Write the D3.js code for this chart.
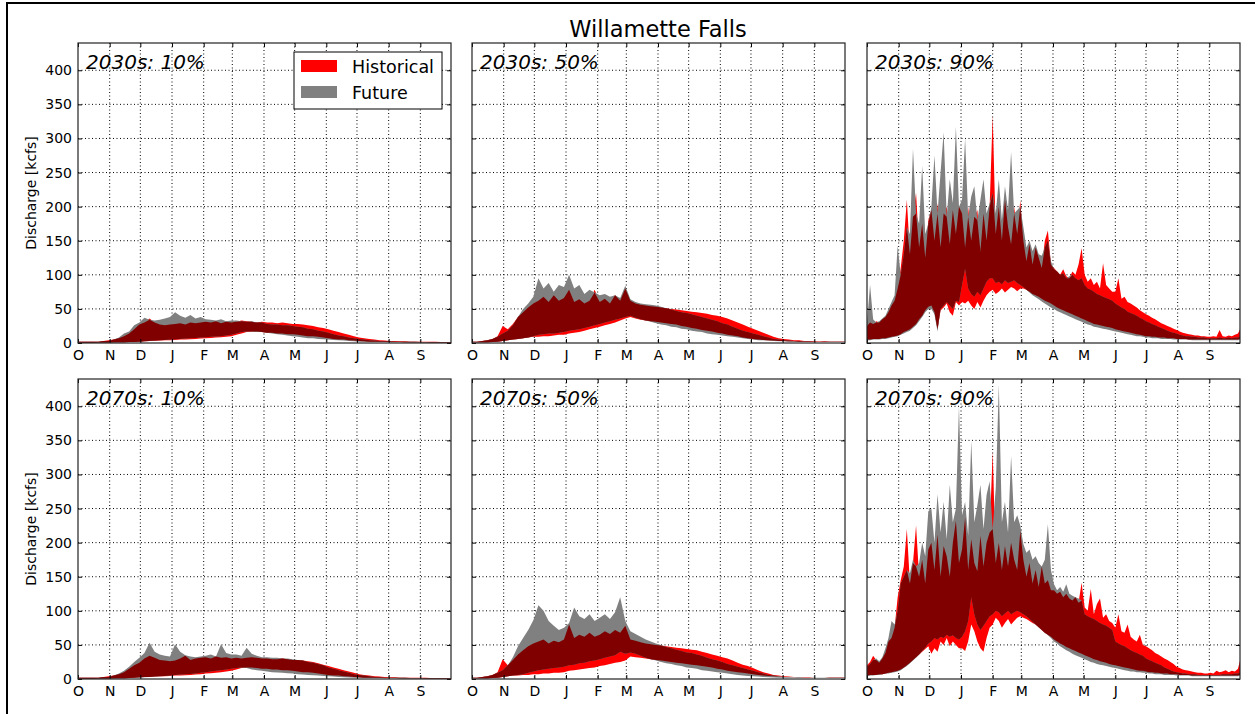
<!DOCTYPE html>
<html>
<head>
<meta charset="utf-8">
<script src="https://cdn.jsdelivr.net/npm/d3@7"></script>
<style>
  body { margin: 0; background: #fff; }
  text { font-family: "DejaVu Sans", sans-serif; }
</style>
</head>
<body>
<div id="chart"></div>
<script>
// sample days of the water year (Oct 1 = day 0)
const days5 = d3.range(0, 366, 5);                 // 74 samples, 10% / 50% panels
const days3 = d3.range(0, 364, 3).concat([365]);   // 123 samples, 90% panels
const monthStarts = [0, 31, 61, 92, 123, 151, 182, 212, 243, 273, 304, 335];
const monthLabels = ["O", "N", "D", "J", "F", "M", "A", "M", "J", "J", "A", "S"];
const yTicks = [0, 50, 100, 150, 200, 250, 300, 350, 400];
const panelLabels = ["2030s: 10%", "2030s: 50%", "2030s: 90%", "2070s: 10%", "2070s: 50%", "2070s: 90%"];

// 2030s 10%
const h30_10_hi = [2,2,2,2,2,3,4, 5,7,10,14,20,27, 30,36,30,27,26,27, 28,29,27,30,29,30, 31,30,32,29,31,30, 31,33,32,31,30,31,
  30,30,29,30,29,28, 28,27,26,25,23,22, 20,18,16,14,12,10, 8,7,6,5,4,3.5, 3,3,2.5,2.5,2,2, 2,2,1.8,1.8,1.6,1.6,1.5];
const h30_10_lo = [0.5,0.5,0.5,0.5,0.6,0.7,0.8, 1,1,1.2,1.4,1.6,2, 2.5,3,3,3.5,4,4, 4.5,5,5,5.5,6,6.5, 7,7.5,8,8.5,9,10, 12,14,16,17,17,16,
  15,15,14,14,13,13, 12,11,10,10,9,8, 7,6,5,5,4,3.5, 3,2.5,2,2,1.8,1.6, 1.5,1.4,1.3,1.2,1.1,1, 1,1,0.9,0.9,0.8,0.8,0.8];
const f30_10_hi = [2,2,2,2,2,3,3, 5,8,14,17,26,30, 37,34,33,34,36,38, 45,40,37,41,36,38, 35,34,33,35,32,33, 33,32,31,32,30,30,
  28,27,27,26,26,25, 24,23,21,20,18,17, 15,13,11,10,8,7, 6,5,4,3.5,3,2.5, 2.5,2,2,2,1.8,1.8, 1.6,1.6,1.5,1.5,1.4,1.4,1.4];
const f30_10_lo = [0.5,0.5,0.5,0.5,0.5,0.6,0.7, 0.8,1,1.1,1.3,1.5,1.8, 2.5,3,3.5,4,4.5,5, 5.5,6,6.5,7,7.5,8, 8.5,9,9.5,10,11,12, 14,16,17,17,16,16,
  15,14,13,12,11,10, 9,8,7,7,6,5.5, 5,4.5,4,3.5,3,2.5, 2,1.8,1.6,1.5,1.4,1.3, 1.2,1.1,1,1,0.9,0.9, 0.8,0.8,0.8,0.7,0.7,0.7,0.7];

// 2030s 50%
const h30_50_hi = [2,2,3,4,6,10,25, 20,28,38,45,52,58, 62,68,60,70,62,66, 78,60,64,58,62,78, 60,65,58,70,62,80, 62,58,56,55,54,53,
  52,51,50,49,48,47, 46,45,44,43,41,40, 38,36,33,30,27,24, 21,18,15,12,9,7, 6,5,4,4,3,3, 3,2.5,2.5,2,2,2,2];
const h30_50_lo = [1,1,1,1,1.5,2,3, 4,5,6,7,8,9, 9,10,10,11,12,12, 14,15,16,18,20,22, 24,26,28,30,33,36, 38,36,34,33,32,31,
  30,29,28,27,25,24, 22,21,19,18,17,15, 14,12,11,10,8,7, 6,5,4.5,4,3.5,3, 3,2.5,2.5,2,2,2, 1.8,1.8,1.6,1.6,1.5,1.5,1.5];
const f30_50_hi = [2,2,3,4,6,9,14, 18,26,38,50,58,68, 95,80,88,75,85,82, 100,80,85,72,78,74, 70,72,68,70,66,84, 64,60,58,57,56,55,
  53,51,49,47,45,44, 42,40,38,36,34,32, 29,27,24,21,18,16, 14,12,10,8,6,5, 4,3.5,3,3,2.5,2.5, 2,2,2,2,2,2,2];
const f30_50_lo = [1,1,1,1,1.5,2,3, 4,5,6,7,8,10, 12,13,14,14,15,16, 18,19,20,22,24,26, 28,30,32,34,36,38, 40,37,35,33,31,29,
  27,26,24,23,21,20, 18,17,16,14,13,12, 11,10,9,8,7,6, 5,4,4,3.5,3,2.5, 2.5,2,2,2,1.8,1.8, 1.6,1.6,1.5,1.5,1.5,1.4,1.4];

// 2030s 90%
const h30_90_hi = [25,30,28,32,30,35,38,45,55,62,80, 110,150,210,130,185,220,140,175,125,180, 195,150,205,140,190,200,145,195,160,200,
  190,140,200,150,185,195,135,190,150,200, 334,160,200,150,210,170,145,200,160,209, 150,120,145,115,140,125,110,150,165,115,
  110,105,100,108,98,95,105,100,115,139, 100,90,95,85,90,80,117,85,80,75, 75,95,65,68,60,58,55,52,48,45,
  42,40,37,35,32,29,27,25,23,21,19, 17,15,14,13,12,11,11,10,10,9, 9,10,9,19,10,9,11,10,12,14,20];
const h30_90_lo = [5,5,6,6,6,7,7,8,9,10,11, 13,16,18,20,24,28,35,40,48,53, 55,45,20,48,52,58,45,40,60,55,
  60,58,62,55,50,60,52,62,70,75, 78,72,75,80,74,78,82,80,76,80, 80,78,75,72,70,68,65,62,60,58,
  55,52,50,48,46,44,42,40,38,36, 34,32,30,28,27,26,25,24,23,22, 20,19,18,17,16,15,14,13,12,11,
  10,10,9,9,8,8,8,7,7,7,6, 6,6,6,5,5,5,5,5,5,5, 5,5,5,5,5,5,5,5,5,5,6];
const f30_90_hi = [30,85,35,30,32,36,40,50,60,70,143, 100,130,170,160,285,190,175,260,160,175, 200,275,190,250,309,185,240,205,317,200,
  210,300,185,215,230,180,210,240,190,205, 220,190,240,180,230,195,280,190,195,200, 170,140,150,135,145,130,128,140,150,120,
  108,105,100,102,95,98,100,95,92,95, 85,80,78,75,72,70,68,66,64,62, 58,55,52,50,46,44,42,40,37,35,
  32,30,28,26,24,22,20,18,16,15,14, 12,11,10,10,9,9,8,8,8,7, 7,7,7,8,7,7,8,7,8,8,9];
const f30_90_lo = [4,4,5,5,5,6,6,7,8,9,10, 12,14,16,18,22,26,32,38,45,50, 50,42,17,50,55,60,55,50,62,60,
  85,109,80,72,68,75,70,80,90,95, 95,88,90,86,92,88,90,92,88,85, 82,78,74,70,67,64,61,58,55,52,
  50,47,45,43,41,39,37,35,33,31, 29,27,26,24,23,22,21,20,19,18, 17,16,15,14,13,12,11,10,10,9,
  8,8,7,7,7,6,6,6,6,5,5, 5,5,5,5,4,4,4,4,4,4, 4,4,4,4,4,4,4,4,4,4,5];

// 2070s 10%
const h70_10_hi = [2,2,2,2,2,3,4, 5,7,10,15,20,24, 30,34,31,28,27,26, 27,30,34,28,30,31, 32,30,33,31,32,30, 31,30,31,32,31,30,
  30,29,29,30,29,28, 28,27,26,25,23,21, 19,17,15,13,11,9, 7,6,5,4,3.5,3, 2.5,2.5,2,2,2,2, 1.8,1.8,1.6,1.6,1.5,1.5,1.5];
const h70_10_lo = [0.5,0.5,0.5,0.5,0.6,0.7,0.8, 1,1,1.2,1.5,2,2.5, 3,3,3.5,4,4,4.5, 5,5,5.5,6,6.5,7, 8,8.5,9,10,11,12, 14,16,17,17,16,15,
  15,14,14,13,13,12, 11,10,10,9,8,7, 6,5,5,4,3.5,3, 2.5,2,2,1.8,1.6,1.5, 1.4,1.3,1.2,1.1,1,1, 1,0.9,0.9,0.8,0.8,0.8,0.8];
const f70_10_hi = [2,2,2,2,2,3,3, 5,8,12,18,25,31, 38,53,40,36,34,33, 51,40,35,33,32,33, 34,36,33,51,38,36, 36,34,46,37,34,32,
  32,31,31,30,30,29, 28,27,25,24,22,20, 17,15,13,11,9,7, 6,5,4,3,2.5,2, 2,2,1.8,1.8,1.6,1.6, 1.5,1.5,1.4,1.4,1.3,1.3,1.3];
const f70_10_lo = [0.5,0.5,0.5,0.5,0.5,0.6,0.7, 0.8,1,1.2,1.4,1.7,2, 2.5,3,3.5,4,4.5,5, 6,6.5,7,7.5,8,9, 10,11,12,13,14,15, 16,17,16,14,13,12,
  11,10,9.5,9,8.5,8, 7,6.5,6,5.5,5,4.5, 4,3.5,3,2.5,2.2,2, 1.8,1.6,1.5,1.4,1.3,1.2, 1.1,1,1,0.9,0.9,0.9, 0.8,0.8,0.8,0.7,0.7,0.7,0.7];

// 2070s 50%
const h70_50_hi = [2,2,3,4,6,10,29, 20,28,36,42,48,52, 55,58,52,56,54,58, 80,60,65,62,68,62, 65,70,66,72,68,78, 58,56,54,52,51,50,
  49,48,47,46,45,44, 43,42,40,38,36,34, 32,30,27,24,21,19, 16,13,10,8,6,5, 4,3.5,3,3,2.5,2.5, 2,2,2,2,2,2,2];
const h70_50_lo = [1,1,1,1,1.5,2,3, 4,5,5,6,6,7, 7,8,8,9,9,10, 12,13,14,15,16,17, 19,20,22,24,25,27, 33,32,31,30,29,28,
  27,26,25,24,23,22, 21,20,19,18,17,15, 14,12,11,10,9,8, 7,6,5,4.5,4,3.5, 3,3,2.5,2.5,2,2, 2,1.8,1.8,1.6,1.6,1.5,1.5];
const f70_50_hi = [2,2,3,4,6,9,13, 20,32,48,60,72,86, 108,100,85,78,72,75, 82,105,92,88,95,85, 90,95,88,98,120,85, 70,66,62,58,55,52,
  50,47,45,43,41,39, 38,36,34,31,29,27, 25,22,20,18,16,14, 12,10,8,6,5,4, 3,3,2.5,2.5,2,2, 2,2,2,2,2,2,2];
const f70_50_lo = [1,1,1,1,1.5,2,3, 4,5,6,7,9,11, 13,14,15,16,17,18, 20,21,23,24,26,27, 29,31,33,35,40,37, 39,37,34,31,29,27,
  25,23,22,20,19,17, 16,15,13,12,11,10, 9,8,7,6,5,4.5, 4,3.5,3,2.5,2.2,2, 2,1.8,1.8,1.6,1.6,1.5, 1.5,1.4,1.4,1.3,1.3,1.3,1.3];

// 2070s 90%
const h70_90_hi = [20,25,34,28,24,30,38,55,60,75,120, 145,165,220,140,170,225,150,175,140,190, 200,160,212,150,195,180,150,200,232,170,
  190,237,160,205,170,158,210,165,200,215, 334,170,200,160,195,165,200,175,160,217, 175,150,170,140,160,135,165,140,145,130,
  130,125,128,120,125,118,115,120,112,141, 105,100,132,95,110,118,90,95,85,82, 75,95,70,68,80,62,58,55,65,50,
  48,45,42,38,36,33,30,28,25,22,18, 16,14,13,12,11,10,9,9,8,8, 9,8,12,10,11,13,10,12,11,15,27];
const h70_90_lo = [5,6,6,6,7,7,8,9,10,11,12, 14,17,20,24,28,32,36,40,44,48, 37,45,40,55,50,60,48,55,50,45,
  45,41,55,80,70,55,45,40,60,75, 80,90,85,75,82,88,80,85,90,92, 90,88,85,82,80,76,72,68,65,62,
  58,55,52,50,47,45,43,41,39,37, 35,33,31,29,28,26,25,24,22,21, 20,19,18,17,16,15,14,13,12,12,
  11,10,10,9,9,8,8,8,7,7,7, 6,6,6,6,5,5,5,5,5,5, 5,5,5,5,5,5,5,5,5,5,6];
const f70_90_hi = [18,22,28,30,26,32,45,60,85,80,100, 140,150,160,155,175,165,170,200,180,246, 250,200,271,215,260,205,285,230,250,400,
  240,260,210,349,230,255,285,220,270,290, 220,280,432,230,260,215,327,230,240,225, 198,185,190,175,180,170,165,175,227,160,
  139,130,135,128,139,125,122,120,118,115, 95,92,90,88,85,82,80,78,75,72, 55,52,50,48,45,42,40,38,36,34,
  30,28,26,24,22,20,17,15,13,11,10, 9,8,8,7,7,7,6,6,6,6, 6,6,6,6,7,7,7,7,8,8,9];
const f70_90_lo = [4,5,5,6,6,7,8,8,9,10,11, 13,16,19,23,27,31,36,41,46,52, 55,60,58,62,60,65,62,64,60,58,
  62,70,85,120,95,80,72,78,85,92, 95,100,98,92,96,100,95,98,100,98, 95,92,88,84,80,76,72,68,64,60,
  55,52,48,45,42,40,37,35,33,31, 29,27,25,24,22,21,20,19,18,17, 16,15,14,13,12,11,11,10,10,9,
  9,8,8,7,7,7,6,6,6,6,5, 5,5,5,5,4,4,4,4,4,4, 4,4,4,4,4,4,4,4,4,4,5];

const panels = [
  { label: panelLabels[0], days: days5, hLo: h30_10_lo, hHi: h30_10_hi, fLo: f30_10_lo, fHi: f30_10_hi },
  { label: panelLabels[1], days: days5, hLo: h30_50_lo, hHi: h30_50_hi, fLo: f30_50_lo, fHi: f30_50_hi },
  { label: panelLabels[2], days: days3, hLo: h30_90_lo, hHi: h30_90_hi, fLo: f30_90_lo, fHi: f30_90_hi },
  { label: panelLabels[3], days: days5, hLo: h70_10_lo, hHi: h70_10_hi, fLo: f70_10_lo, fHi: f70_10_hi },
  { label: panelLabels[4], days: days5, hLo: h70_50_lo, hHi: h70_50_hi, fLo: f70_50_lo, fHi: f70_50_hi },
  { label: panelLabels[5], days: days3, hLo: h70_90_lo, hHi: h70_90_hi, fLo: f70_90_lo, fHi: f70_90_hi }
];

const W = 1255, H = 714;
const colX = [78, 472, 867], rowY = [43, 379];
const pw = 373, ph = 300;

const svg = d3.select("#chart").append("svg")
    .attr("width", W)
    .attr("height", H);

svg.append("rect")
    .attr("x", 7).attr("y", 3)
    .attr("width", 1270).attr("height", 730)
    .attr("fill", "none").attr("stroke", "#000").attr("stroke-width", 2);

svg.append("text")
    .attr("x", 658).attr("y", 37)
    .attr("text-anchor", "middle")
    .attr("font-size", "22.5px")
    .text("Willamette Falls");

const x = d3.scaleLinear().domain([0, 365]).range([0, pw]);
const y = d3.scaleLinear().domain([0, 440]).range([ph, 0]);

panels.forEach((p, k) => {
    const col = k % 3, row = Math.floor(k / 3);
    const days = p.days;
    const g = svg.append("g")
        .attr("transform", "translate(" + colX[col] + "," + rowY[row] + ")");

    g.append("clipPath").attr("id", "clip" + k)
        .append("rect").attr("width", pw).attr("height", ph);

    // dotted grid
    g.selectAll(".vgrid").data(monthStarts.slice(1)).enter().append("line")
        .attr("x1", d => x(d)).attr("x2", d => x(d))
        .attr("y1", 0).attr("y2", ph)
        .attr("stroke", "#000").attr("stroke-width", 1).attr("stroke-dasharray", "1,2.5");
    g.selectAll(".hgrid").data(yTicks.slice(1)).enter().append("line")
        .attr("x1", 0).attr("x2", pw)
        .attr("y1", d => y(d)).attr("y2", d => y(d))
        .attr("stroke", "#000").attr("stroke-width", 1).attr("stroke-dasharray", "1,2.5");

    // overlap band between the two ranges
    const oLo = days.map((d, i) => Math.max(p.hLo[i], p.fLo[i]));
    const oHi = days.map((d, i) => Math.max(oLo[i], Math.min(p.hHi[i], p.fHi[i])));

    const band = (lo, hi) => d3.area()
        .x((d, i) => x(days[i]))
        .y0((d, i) => y(lo[i]))
        .y1((d, i) => y(hi[i]));

    const plot = g.append("g").attr("clip-path", "url(#clip" + k + ")");
    plot.append("path").datum(days).attr("d", band(p.hLo, p.hHi)).attr("fill", "#ff0000");
    plot.append("path").datum(days).attr("d", band(p.fLo, p.fHi)).attr("fill", "#808080");
    plot.append("path").datum(days).attr("d", band(oLo, oHi)).attr("fill", "#800000");

    // axes, inward ticks on all sides
    g.append("g").attr("transform", "translate(0," + ph + ")")
        .call(d3.axisBottom(x).tickValues(monthStarts)
            .tickFormat((d, i) => monthLabels[i]).tickSizeInner(-4).tickSizeOuter(0).tickPadding(7));
    g.append("g")
        .call(d3.axisTop(x).tickValues(monthStarts).tickFormat("").tickSizeInner(-4).tickSizeOuter(0));
    g.append("g")
        .call(d3.axisLeft(y).tickValues(yTicks)
            .tickFormat(col === 0 ? d3.format("d") : "").tickSizeInner(-4).tickSizeOuter(0).tickPadding(6));
    g.append("g").attr("transform", "translate(" + pw + ",0)")
        .call(d3.axisRight(y).tickValues(yTicks).tickFormat("").tickSizeInner(-4).tickSizeOuter(0));

    g.selectAll(".domain").remove();
    g.selectAll(".tick line").attr("stroke", "#000");
    g.selectAll(".tick text").attr("font-size", "14px").attr("fill", "#000")
        .attr("font-family", "DejaVu Sans, sans-serif");

    g.append("rect")
        .attr("width", pw).attr("height", ph)
        .attr("fill", "none").attr("stroke", "#222").attr("stroke-width", 1.2);

    g.append("text")
        .attr("x", 8).attr("y", 26)
        .attr("font-size", "20px")
        .attr("font-style", "italic")
        .text(p.label);

    if (col === 0) {
        svg.append("text")
            .attr("transform", "translate(36," + (rowY[row] + ph / 2) + ") rotate(-90)")
            .attr("text-anchor", "middle")
            .attr("font-size", "14px")
            .text("Discharge [kcfs]");
    }

    if (k === 0) {
        const leg = g.append("g").attr("transform", "translate(216,9)");
        leg.append("rect").attr("width", 148).attr("height", 57)
            .attr("fill", "#fff").attr("stroke", "#000").attr("stroke-width", 1);
        leg.append("rect").attr("x", 7).attr("y", 8).attr("width", 36).attr("height", 12).attr("fill", "#ff0000");
        leg.append("rect").attr("x", 7).attr("y", 34).attr("width", 36).attr("height", 12).attr("fill", "#808080");
        leg.append("text").attr("x", 58).attr("y", 21).attr("font-size", "17.5px").text("Historical");
        leg.append("text").attr("x", 58).attr("y", 47).attr("font-size", "17.5px").text("Future");
    }
});
</script>
</body>
</html>
